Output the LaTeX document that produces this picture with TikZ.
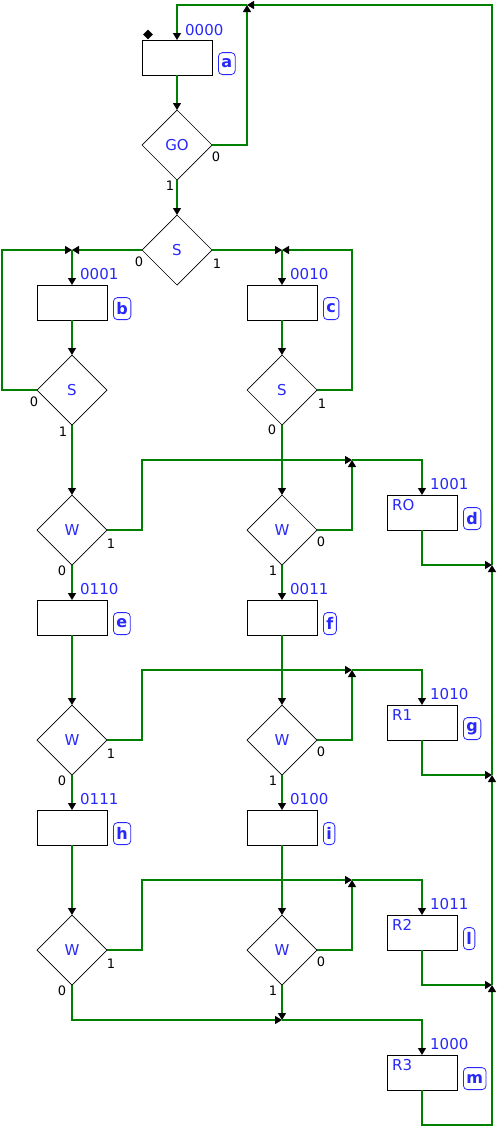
\documentclass[tikz,border=0pt]{standalone}
\usepackage{fontspec}
\setmainfont{DejaVu Sans}
\usetikzlibrary{shapes.geometric,arrows.meta,calc}
\definecolor{ln}{RGB}{0,128,0}
\definecolor{tx}{RGB}{40,40,250}
\tikzset{
  box/.style={draw=black,line width=1pt,minimum width=70pt,minimum height=35pt,inner sep=0pt,outer sep=0pt},
  dec/.style={diamond,draw=black,line width=0.7pt,minimum width=70pt,minimum height=70pt,inner sep=0pt,outer sep=0pt,text=tx,font=\fontsize{15}{15}\selectfont},
  code/.style={text=tx,anchor=west,inner sep=0pt,font=\fontsize{15}{15}\selectfont},
  act/.style={text=tx,anchor=north west,inner sep=0pt,font=\fontsize{15}{15}\selectfont},
  tag/.style={draw=tx,line width=0.8pt,rounded corners=4pt,text=tx,font=\bfseries\fontsize{16}{16}\selectfont,minimum height=22pt,inner xsep=3pt,inner ysep=0pt,anchor=south west},
  bit/.style={text=black,inner sep=0pt,font=\fontsize{13}{13}\selectfont},
  flow/.style={draw=ln,line width=1.3pt},
  arr/.style={flow,-{Triangle[length=7pt,width=8pt,color=black]}},
  initm/.style={diamond,fill=black,minimum width=10pt,minimum height=10pt,inner sep=0pt}
}
\begin{document}
\begin{tikzpicture}[x=1pt,y=-1pt]
\useasboundingbox (0,0) rectangle (499,1130);
% boxes
\node[box] (a) at (177,57.5) {};
\node[box] (b) at (72,302.5) {};
\node[box] (c) at (282,302.5) {};
\node[box] (d) at (422,512.5) {};
\node[box] (e) at (72,617.5) {};
\node[box] (f) at (282,617.5) {};
\node[box] (g) at (422,722.5) {};
\node[box] (h) at (72,827.5) {};
\node[box] (i) at (282,827.5) {};
\node[box] (l) at (422,932.5) {};
\node[box] (m) at (422,1072.5) {};
\node[initm] (init) at (148,34.5) {};
% state codes
\node[code] (ca) at (185,30) {0000};
\node[code] (cb) at (80,274.5) {0001};
\node[code] (cc) at (290,274.5) {0010};
\node[code] (cd) at (430,484.5) {1001};
\node[code] (ce) at (80,589.5) {0110};
\node[code] (cf) at (290,589.5) {0011};
\node[code] (cg) at (430,694.5) {1010};
\node[code] (ch) at (80,799.5) {0111};
\node[code] (ci) at (290,799.5) {0100};
\node[code] (cl) at (430,904.5) {1011};
\node[code] (cm) at (430,1044.5) {1000};
% actions
\node[act] (ad) at (392,499) {RO};
\node[act] (ag) at (392,709) {R1};
\node[act] (al) at (392,919) {R2};
\node[act] (am) at (392,1059) {R3};
% tags
\node[tag] (ta) at (218,75) {a};
\node[tag] (tb) at (113,320) {b};
\node[tag] (tc) at (323,320) {c};
\node[tag] (td) at (463,530) {d};
\node[tag] (te) at (113,635) {e};
\node[tag] (tf) at (323,635) {f};
\node[tag] (tg) at (463,740) {g};
\node[tag] (th) at (113,845) {h};
\node[tag] (ti) at (323,845) {i};
\node[tag] (tl) at (463,950) {l};
\node[tag] (tm) at (463,1090) {m};
% decisions
\node[dec] (GO) at (177,145) {GO};
\node[dec] (S0) at (177,250) {S};
\node[dec] (Sb) at (72,390) {S};
\node[dec] (Sc) at (282,390) {S};
\node[dec] (W1b) at (72,530) {W};
\node[dec] (W1c) at (282,530) {W};
\node[dec] (W2b) at (72,740) {W};
\node[dec] (W2c) at (282,740) {W};
\node[dec] (W3b) at (72,950) {W};
\node[dec] (W3c) at (282,950) {W};
% bit labels
\node[bit] (bGOr) at ($(GO)+(39,12)$) {0};
\node[bit] (bGOb) at ($(GO)+(-7,41)$) {1};
\node[bit] (bS0l) at ($(S0)+(-38,12)$) {0};
\node[bit] (bS0r) at ($(S0)+(40,14)$) {1};
\node[bit] (bSbl) at ($(Sb)+(-38,12)$) {0};
\node[bit] (bSbb) at ($(Sb)+(-9,42)$) {1};
\node[bit] (bScr) at ($(Sc)+(40,14)$) {1};
\node[bit] (bScb) at ($(Sc)+(-10,40)$) {0};
\foreach \n in {W1b,W2b,W3b}{
  \node[bit] (r\n) at ($(\n)+(39,14)$) {1};
  \node[bit] (o\n) at ($(\n)+(-10,41)$) {0};
}
\foreach \n in {W1c,W2c,W3c}{
  \node[bit] (r\n) at ($(\n)+(39,12)$) {0};
  \node[bit] (o\n) at ($(\n)+(-9,41)$) {1};
}
% junctions
\coordinate (jt) at (247,5);
\coordinate (jb) at (72,250);
\coordinate (jc) at (282,250);
\coordinate (lb) at (2,250);
\coordinate (rc) at (352,250);
\coordinate (j1) at (352,460);
\coordinate (j2) at (352,670);
\coordinate (j3) at (352,880);
\coordinate (k1) at (142,460);
\coordinate (k2) at (142,670);
\coordinate (k3) at (142,880);
\coordinate (r1) at (492,565);
\coordinate (r2) at (492,775);
\coordinate (r3) at (492,985);
\coordinate (bm) at (492,1125);
\coordinate (jm) at (282,1020);
% connectors
\draw[arr] (a.south) -- (GO.north);
\draw[arr] (GO.east) -| (jt);
\draw[arr] (r1) |- (jt);
\draw[arr] (jt) -| (a.north);
\draw[arr] (GO.south) -- (S0.north);
\draw[arr] (S0.west) -- (jb);
\draw[arr] (S0.east) -- (jc);
\draw[arr] (Sb.west) -| (lb) -- (jb);
\draw[arr] (Sc.east) -| (rc) -- (jc);
\draw[arr] (jb) -- (b.north);
\draw[arr] (jc) -- (c.north);
\draw[arr] (b.south) -- (Sb.north);
\draw[arr] (c.south) -- (Sc.north);
\draw[arr] (Sb.south) -- (W1b.north);
\draw[arr] (Sc.south) -- (W1c.north);
\draw[arr] (W1b.east) -| (k1) -- (j1);
\draw[arr] (W1c.east) -| (j1);
\draw[arr] (j1) -| (d.north);
\draw[arr] (d.south) |- (r1);
\draw[arr] (W1b.south) -- (e.north);
\draw[arr] (W1c.south) -- (f.north);
\draw[arr] (e.south) -- (W2b.north);
\draw[arr] (f.south) -- (W2c.north);
\draw[arr] (W2b.east) -| (k2) -- (j2);
\draw[arr] (W2c.east) -| (j2);
\draw[arr] (j2) -| (g.north);
\draw[arr] (g.south) |- (r2);
\draw[arr] (W2b.south) -- (h.north);
\draw[arr] (W2c.south) -- (i.north);
\draw[arr] (h.south) -- (W3b.north);
\draw[arr] (i.south) -- (W3c.north);
\draw[arr] (W3b.east) -| (k3) -- (j3);
\draw[arr] (W3c.east) -| (j3);
\draw[arr] (j3) -| (l.north);
\draw[arr] (l.south) |- (r3);
\draw[arr] (W3b.south) |- (jm);
\draw[arr] (W3c.south) -- (jm);
\draw[arr] (jm) -| (m.north);
\draw[arr] (m.south) |- (bm) -- (r3);
\draw[arr] (r3) -- (r2);
\draw[arr] (r2) -- (r1);
\end{tikzpicture}
\end{document}
